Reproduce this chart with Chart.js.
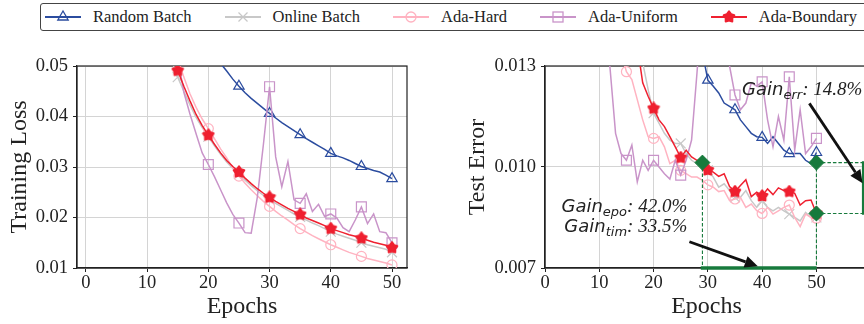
<!DOCTYPE html>
<html lang="en">
<head>
<meta charset="UTF-8">
<title>Training Loss and Test Error</title>
<script src="https://cdn.jsdelivr.net/npm/chart.js"></script>
<style>
    html, body {
        margin: 0;
        padding: 0;
        background: #fff;
        overflow: hidden;
    }
    body {
        width: 864px;
        height: 324px;
        position: relative;
        font-family: 'Liberation Serif', 'Times New Roman', serif;
    }
    .legend {
        position: absolute;
        left: 40px;
        top: 3px;
        width: 900px;
        height: 28px;
        border: 1.3px solid #444;
        border-radius: 3px;
        box-sizing: border-box;
        display: flex;
        align-items: center;
        padding-left: 4px;
        background: #fff;
        z-index: 2;
    }
    .legend .item {
        display: flex;
        align-items: center;
        margin-right: 33px;
    }
    .legend svg {
        margin-right: 12px;
    }
    .legend span {
        font-size: 16.5px;
        color: #222;
        white-space: nowrap;
    }
    #leftBox { position: absolute; left: 0; top: 0; width: 432px; height: 324px; }
    #rightBox { position: absolute; left: 432px; top: 0; width: 480px; height: 324px; }
</style>
</head>
<body>
<div id="leftBox"><canvas id="lossChart"></canvas></div>
<div id="rightBox"><canvas id="errChart"></canvas></div>
<div class="legend" id="legend"></div>

<script>
    // ---- data ----
    const trainEpochs = [13, 14, 15, 16, 17, 18, 19, 20, 21, 22, 23, 24, 25, 26, 27, 28, 29, 30, 31, 32,
                         33, 34, 35, 36, 37, 38, 39, 40, 41, 42, 43, 44, 45, 46, 47, 48, 49, 50];
    const lossRandom = [null, null, null, null, null, null, null, null, 0.0522, 0.0505, 0.0490, 0.0474, 0.0460,
                        0.0447, 0.0436, 0.0426, 0.0416, 0.0406, 0.0397, 0.0388, 0.0380, 0.0372, 0.0364, 0.0356,
                        0.0349, 0.0342, 0.0335, 0.0327, 0.0322, 0.0318, 0.0313, 0.0307, 0.0301, 0.0297, 0.0293,
                        0.0290, 0.0284, 0.0277];
    const lossOnline = [null, 0.0510, 0.0478, 0.0450, 0.0423, 0.0398, 0.0378, 0.0360, 0.0342, 0.0325, 0.0310,
                        0.0297, 0.0286, 0.0274, 0.0263, 0.0253, 0.0244, 0.0236, 0.0228, 0.0221, 0.0214, 0.0207,
                        0.0201, 0.0195, 0.0189, 0.0184, 0.0178, 0.0172, 0.0167, 0.0163, 0.0159, 0.0155, 0.0150,
                        0.0146, 0.0143, 0.0140, 0.0137, 0.0131];
    const lossHard = [null, null, 0.0515, 0.0478, 0.0445, 0.0418, 0.0395, 0.0376, 0.0356, 0.0336, 0.0318, 0.0298,
                      0.0282, 0.0268, 0.0255, 0.0243, 0.0232, 0.0222, 0.0212, 0.0203, 0.0195, 0.0186, 0.0178,
                      0.0171, 0.0164, 0.0158, 0.0152, 0.0146, 0.0141, 0.0136, 0.0131, 0.0127, 0.0123, 0.0119,
                      0.0116, 0.0113, 0.0110, 0.0106];
    const lossUniform = [null, null, 0.0517, 0.0448, 0.0405, 0.0366, 0.0328, 0.0305, 0.0281, 0.0255, 0.0229,
                         0.0206, 0.0189, 0.0170, 0.0169, 0.0240, 0.0345, 0.0459, 0.0320, 0.0261, 0.0311, 0.0235,
                         0.0228, 0.0247, 0.0212, 0.0226, 0.0202, 0.0207, 0.0199, 0.0180, 0.0172, 0.0195, 0.0221,
                         0.0188, 0.0207, 0.0172, 0.0170, 0.0150];
    const lossBoundary = [null, 0.0525, 0.0491, 0.0460, 0.0431, 0.0404, 0.0382, 0.0363, 0.0345, 0.0328, 0.0313,
                          0.0301, 0.0290, 0.0278, 0.0267, 0.0257, 0.0248, 0.0240, 0.0232, 0.0225, 0.0218, 0.0212,
                          0.0206, 0.0199, 0.0194, 0.0189, 0.0184, 0.0178, 0.0174, 0.0170, 0.0166, 0.0163, 0.0159,
                          0.0155, 0.0151, 0.0148, 0.0145, 0.0140];

    const testEpochs = [10, 11, 12, 13, 14, 15, 16, 17, 18, 19, 20, 21, 22, 23, 24, 25, 26, 27, 28, 29, 30,
                        31, 32, 33, 34, 35, 36, 37, 38, 39, 40, 41, 42, 43, 44, 45, 46, 47, 48, 49, 50];
    const errRandom = [null, null, null, null, null, null, null, null, null, null, null, null, null, null, null,
                       null, null, null, null, 0.0134, 0.01258, 0.0124, 0.0122, 0.0119, 0.0118, 0.0117, 0.0114,
                       0.0112, 0.0110, 0.0109, 0.01088, 0.0107, 0.0109, 0.0107, 0.0105, 0.0104, 0.0104, 0.0104,
                       0.0102, 0.0101, 0.01043];
    const errOnline = [null, null, null, null, null, null, null, 0.0140, 0.0131, 0.0123, 0.0116, 0.0113, 0.0110,
                       0.0108, 0.0107, 0.0107, 0.0104, 0.0102, 0.0101, 0.0100, 0.0099, 0.0097, 0.0094, 0.0095,
                       0.0093, 0.0091, 0.0091, 0.0093, 0.0090, 0.0088, 0.0090, 0.0088, 0.0087, 0.0088, 0.0087,
                       0.0086, 0.0085, 0.0084, 0.00865, 0.0085, 0.0085];
    const errHard = [null, null, null, null, 0.0134, 0.01283, 0.0126, 0.0120, 0.0114, 0.0109, 0.01085, 0.0109,
                     0.0106, 0.0101, 0.0102, 0.0099, 0.0098, 0.0097, 0.0097, 0.0096, 0.00947, 0.0094, 0.00927,
                     0.0093, 0.0090, 0.00905, 0.0091, 0.0088, 0.0089, 0.0087, 0.00862, 0.0088, 0.0086, 0.0087,
                     0.0088, 0.00887, 0.0085, 0.00823, 0.0086, 0.0085, 0.00848];
    const errUniform = [null, 0.0145, 0.0129, 0.0110, 0.0104, 0.0102, 0.01065, 0.00956, 0.0102, 0.0099, 0.0102,
                        0.0100, 0.0098, 0.00964, 0.0102, 0.00976, 0.0102, 0.0108, 0.0128, 0.0150, 0.0160, 0.0158,
                        0.0150, 0.0140, 0.0130, 0.01214, 0.0117, 0.0119, 0.0125, 0.0124, 0.01253, 0.0114, 0.0106,
                        0.0115, 0.0108, 0.01268, 0.0105, 0.0117, 0.0104, 0.0106, 0.01085];
    const errBoundary = [null, null, null, null, null, null, 0.0145, 0.0136, 0.0125, 0.0121, 0.01174, 0.0114,
                         0.0112, 0.0109, 0.0106, 0.01028, 0.0105, 0.0103, 0.0102, 0.01015, 0.00991, 0.00985,
                         0.00972, 0.0098, 0.00942, 0.00927, 0.00945, 0.00962, 0.00912, 0.00925, 0.00914, 0.00935,
                         0.00918, 0.00938, 0.0093, 0.00927, 0.00922, 0.00887, 0.0090, 0.00902, 0.00862];

    const lossXTicks = [0, 10, 20, 30, 40, 50];
    const lossYTicks = [0.01, 0.02, 0.03, 0.04, 0.05];
    const errXTicks = [0, 10, 20, 30, 40, 50];
    const errYTicks = [0.007, 0.010, 0.013];

    // gain markers: epochs where Boundary matches Random, and the two final error levels
    const gainEpochs = [29, 50];
    const gainErrors = [0.01013, 0.00862];
    const bracketEpoch = 58.6;

    // ---- styling ----
    const SERIF = "'Liberation Serif', 'Times New Roman', serif";
    const INK = '#222';
    const GREEN = '#177a3c';

    const series = [
        { label: 'Random Batch', color: '#2b4c9f', marker: 'triangle', r: 6, order: 5 },
        { label: 'Online Batch', color: '#c8c8c8', marker: 'crossRot', r: 7, order: 4 },
        { label: 'Ada-Hard', color: '#ffb3c1', marker: 'circle', r: 5, order: 3 },
        { label: 'Ada-Uniform', color: '#c994c9', marker: 'rect', r: 7, order: 2 },
        { label: 'Ada-Boundary', color: '#ef2030', marker: 'star', r: 6, order: 1 }
    ];

    function starImage(size, color) {
        const c = document.createElement('canvas');
        c.width = c.height = size;
        const g = c.getContext('2d');
        const cx = size / 2, R = size / 2 - 1.4, r = R * 0.62;
        g.beginPath();
        for (let i = 0; i < 10; i++) {
            const a = -Math.PI / 2 + i * Math.PI / 5;
            const rr = i % 2 ? r : R;
            g.lineTo(cx + rr * Math.cos(a), cx + rr * Math.sin(a));
        }
        g.closePath();
        g.fillStyle = color;
        g.fill();
        g.lineWidth = 2;
        g.lineJoin = 'round';
        g.strokeStyle = color;
        g.stroke();
        return c;
    }
    const starImg = starImage(14, '#ef2030');

    function lineSet(s, epochs, values) {
        return {
            label: s.label,
            data: epochs.map((e, i) => ({ x: e, y: values[i] })),
            borderColor: s.color,
            borderWidth: 1.5,
            tension: 0,
            fill: false,
            pointStyle: s.marker === 'star' ? starImg : s.marker,
            pointRadius: ctx => (ctx.raw && ctx.raw.x % 5 === 0 ? s.r : 0),
            pointBorderColor: s.color,
            pointBackgroundColor: 'rgba(0,0,0,0)',
            pointBorderWidth: 1.2,
            order: s.order,
            clip: 0
        };
    }

    function segment(points, width, dash) {
        return {
            data: points,
            borderColor: GREEN,
            borderWidth: width,
            borderDash: dash,
            pointRadius: 0,
            tension: 0,
            order: 0,
            clip: 4
        };
    }

    // ---- HTML legend ----
    function legendIcon(s) {
        let m = '';
        const st = `stroke="${s.color}" stroke-width="1.3" fill="none"`;
        if (s.marker === 'triangle') m = `<polygon points="18,4 12.8,13 23.2,13" ${st}/>`;
        if (s.marker === 'crossRot') m = `<line x1="13.5" y1="5.5" x2="22.5" y2="14.5" ${st}/><line x1="22.5" y1="5.5" x2="13.5" y2="14.5" ${st}/>`;
        if (s.marker === 'circle') m = `<circle cx="18" cy="10" r="5" ${st}/>`;
        if (s.marker === 'rect') m = `<rect x="13" y="5" width="10" height="10" ${st}/>`;
        if (s.marker === 'star') {
            const pts = [];
            for (let i = 0; i < 10; i++) {
                const a = -Math.PI / 2 + i * Math.PI / 5, rr = i % 2 ? 3.5 : 5.6;
                pts.push((18 + rr * Math.cos(a)).toFixed(1) + ',' + (10 + rr * Math.sin(a)).toFixed(1));
            }
            m = `<polygon points="${pts.join(' ')}" fill="${s.color}" stroke="${s.color}" stroke-width="2" stroke-linejoin="round"/>`;
        }
        return `<svg width="36" height="20" viewBox="0 0 36 20"><line x1="0" y1="10" x2="36" y2="10" stroke="${s.color}" stroke-width="2"/>${m}</svg>`;
    }
    document.getElementById('legend').innerHTML = series
        .map(s => `<div class="item">${legendIcon(s)}<span>${s.label}</span></div>`).join('');

    // ---- plugins ----
    const framePlugin = {
        id: 'frame',
        beforeDatasetsDraw(chart) {
            const a = chart.chartArea, c = chart.ctx;
            c.save();
            c.strokeStyle = INK;
            c.lineWidth = 1.2;
            c.strokeRect(a.left, a.top, a.right - a.left, a.bottom - a.top);
            c.restore();
        }
    };

    const gainTexts = [
        { sub: 'epo', tail: ': 42.0%', x: 26.2, y: 0.00866, align: 'right' },
        { sub: 'tim', tail: ': 33.5%', x: 26.2, y: 0.00807, align: 'right' },
        { sub: 'err', tail: ': 14.8%', x: 36.3, y: 0.01214, align: 'left' }
    ];
    const gainArrows = [
        { from: [26.6, 0.00778], to: [39.2, 0.00705] },
        { from: [48.7, 0.01189], to: [58.5, 0.00952] }
    ];

    const gainPlugin = {
        id: 'gain',
        afterDatasetsDraw(chart) {
            const c = chart.ctx, xs = chart.scales.x, ys = chart.scales.y;
            c.save();
            c.fillStyle = INK;
            c.textBaseline = 'alphabetic';
            gainTexts.forEach(t => {
                const fMain = "italic 18px 'DejaVu Sans'";
                const fSub = "italic 13px 'DejaVu Sans'";
                const fTail = 'italic 19px ' + SERIF;
                c.font = fMain; const w1 = c.measureText('Gain').width;
                c.font = fSub; const w2 = c.measureText(t.sub).width;
                c.font = fTail; const w3 = c.measureText(t.tail).width;
                let x = xs.getPixelForValue(t.x);
                const y = ys.getPixelForValue(t.y);
                if (t.align === 'right') x -= w1 + w2 + w3;
                c.font = fMain; c.fillText('Gain', x, y);
                c.font = fSub; c.fillText(t.sub, x + w1, y + 4);
                c.font = fTail; c.fillText(t.tail, x + w1 + w2, y);
            });
            gainArrows.forEach(a => {
                const x0 = xs.getPixelForValue(a.from[0]), y0 = ys.getPixelForValue(a.from[1]);
                const x1 = xs.getPixelForValue(a.to[0]), y1 = ys.getPixelForValue(a.to[1]);
                const ang = Math.atan2(y1 - y0, x1 - x0), hl = 13, hw = 6;
                const bx = x1 - hl * Math.cos(ang), by = y1 - hl * Math.sin(ang);
                c.strokeStyle = '#111';
                c.lineWidth = 2.8;
                c.beginPath(); c.moveTo(x0, y0); c.lineTo(bx, by); c.stroke();
                c.fillStyle = '#111';
                c.beginPath();
                c.moveTo(x1, y1);
                c.lineTo(bx + hw * Math.sin(ang), by - hw * Math.cos(ang));
                c.lineTo(bx - hw * Math.sin(ang), by + hw * Math.cos(ang));
                c.closePath(); c.fill();
            });
            c.restore();
        }
    };

    // ---- chart builder ----
    function buildChart(id, cfg) {
        const tickFont = { family: SERIF, size: 18.5 };
        const titleFont = { family: SERIF, size: 24 };
        const grid = { color: '#d4d4d4', lineWidth: 1, tickLength: 4, tickColor: INK, drawTicks: true };
        return new Chart(document.getElementById(id), {
            type: 'line',
            data: { datasets: cfg.datasets },
            options: {
                responsive: true,
                maintainAspectRatio: false,
                animation: false,
                events: [],
                layout: { padding: { top: 66, right: cfg.padRight, left: 0, bottom: 0 } },
                plugins: { legend: { display: false }, tooltip: { enabled: false } },
                scales: {
                    x: {
                        type: 'linear',
                        min: cfg.xMin,
                        max: cfg.xMax,
                        afterBuildTicks: s => { s.ticks = cfg.xTicks.map(v => ({ value: v })); },
                        afterFit: s => { s.height = 56; },
                        grid: grid,
                        border: { color: INK, width: 1.2 },
                        ticks: { font: tickFont, color: INK, padding: 0, maxRotation: 0, callback: v => String(v) },
                        title: { display: true, text: 'Epochs', font: titleFont, color: INK, padding: { top: 0, bottom: 3 } }
                    },
                    y: {
                        min: cfg.yMin,
                        max: cfg.yMax,
                        afterBuildTicks: s => { s.ticks = cfg.yTicks.map(v => ({ value: v })); },
                        afterFit: s => { s.width = cfg.yWidth; },
                        grid: grid,
                        border: { color: INK, width: 1.2 },
                        ticks: { font: tickFont, color: INK, padding: 5, callback: v => v.toFixed(cfg.yDigits) },
                        title: { display: true, text: cfg.yTitle, font: titleFont, color: INK, padding: { top: cfg.yTitlePad, bottom: 0 } }
                    }
                }
            },
            plugins: [framePlugin].concat(cfg.plugins || [])
        });
    }

    const lossValues = [lossRandom, lossOnline, lossHard, lossUniform, lossBoundary];
    buildChart('lossChart', {
        datasets: series.map((s, i) => lineSet(s, trainEpochs, lossValues[i])),
        xMin: -1.45, xMax: 52.45, xTicks: lossXTicks,
        yMin: 0.01, yMax: 0.05, yTicks: lossYTicks, yDigits: 2,
        yTitle: 'Training Loss', yTitlePad: 5.6, yWidth: 77, padRight: 25
    });

    const errValues = [errRandom, errOnline, errHard, errUniform, errBoundary];
    const [eA, eB] = gainEpochs, [errHi, errLo] = gainErrors;
    const greenSets = [
        segment([{ x: eA, y: errHi }, { x: eA, y: 0.007 }], 1.1, [3.5, 2]),
        segment([{ x: eB, y: errHi }, { x: eB, y: 0.007 }], 1.1, [3.5, 2]),
        segment([{ x: eB, y: errHi }, { x: bracketEpoch, y: errHi }], 1.1, [3.5, 2]),
        segment([{ x: eB, y: errLo }, { x: bracketEpoch, y: errLo }], 1.1, [3.5, 2]),
        segment([{ x: bracketEpoch, y: errHi + 0.00004 }, { x: bracketEpoch, y: errLo - 0.00004 }], 2.4, []),
        segment([{ x: eA - 0.3, y: 0.007 }, { x: eB, y: 0.007 }], 3.5, []),
        {
            data: [{ x: eA, y: errHi }, { x: eB, y: errHi }, { x: eB, y: errLo }],
            showLine: false,
            pointStyle: 'rectRot',
            pointRadius: 7.5,
            pointBackgroundColor: GREEN,
            pointBorderColor: GREEN,
            pointBorderWidth: 1,
            order: -1,
            clip: 4
        }
    ];
    buildChart('errChart', {
        datasets: series.map((s, i) => lineSet(s, testEpochs, errValues[i])).concat(greenSets),
        xMin: 0, xMax: 59.5, xTicks: errXTicks,
        yMin: 0.007, yMax: 0.013, yTicks: errYTicks, yDigits: 3,
        yTitle: 'Test Error', yTitlePad: 31.6, yWidth: 113, padRight: 44,
        plugins: [gainPlugin]
    });
</script>
</body>
</html>
